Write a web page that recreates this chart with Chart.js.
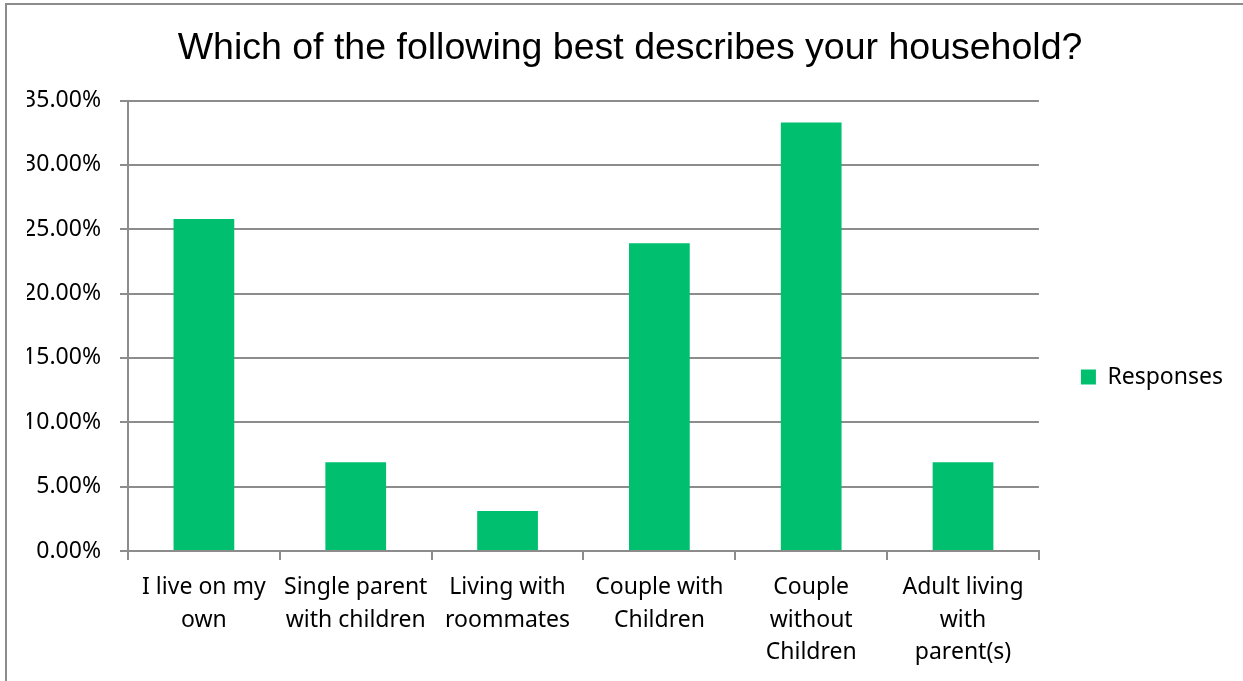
<!DOCTYPE html>
<html>
<head>
    <title>Household survey</title>
    <script src="https://cdn.jsdelivr.net/npm/chart.js"></script>
    <style>
        body { margin: 0; overflow: hidden; background: #fff; }
        #frame {
            position: absolute;
            left: 5px;
            top: 3px;
            width: 1300px;
            height: 760px;
            border-left: 2px solid #8c8c8c;
            border-top: 2px solid #8c8c8c;
        }
        #householdChart { position: absolute; left: 0; top: 0; }
    </style>
</head>
<body>
    <div id="frame">
        <canvas id="householdChart" width="1246" height="744"></canvas>
    </div>
    <script>
        // Survey answers, share of respondents in percent
        const categories = [
            ['I live on my', 'own'],
            ['Single parent', 'with children'],
            ['Living with', 'roommates'],
            ['Couple with', 'Children'],
            ['Couple', 'without', 'Children'],
            ['Adult living', 'with', 'parent(s)']
        ];
        const responses = [25.8, 6.9, 3.1, 23.9, 33.3, 6.9];
        const yTicks = [0, 5, 10, 15, 20, 25, 30, 35];

        const fontFamily = 'Noto Sans';
        const gridColor = '#8c8c8c';

        const ctx = document.getElementById('householdChart').getContext('2d');
        new Chart(ctx, {
            type: 'bar',
            data: {
                labels: categories,
                datasets: [{
                    label: 'Responses',
                    data: responses,
                    backgroundColor: '#00c070',
                    barPercentage: 0.4,
                    categoryPercentage: 1.0
                }]
            },
            options: {
                responsive: false,
                animation: false,
                layout: { padding: { left: 20, right: 20, top: 0, bottom: 0 } },
                plugins: {
                    title: {
                        display: true,
                        text: 'Which of the following best describes your household?',
                        color: '#000',
                        font: { family: 'Liberation Sans', size: 37.5, weight: 'normal' },
                        padding: { top: 21, bottom: 29.5 }
                    },
                    legend: {
                        position: 'right',
                        labels: {
                            color: '#000',
                            font: { family: fontFamily, size: 23 },
                            boxWidth: 15,
                            boxHeight: 15,
                            padding: 42
                        }
                    },
                    tooltip: { enabled: false }
                },
                scales: {
                    x: {
                        grid: {
                            display: true,
                            drawOnChartArea: false,
                            offset: true,
                            color: gridColor,
                            lineWidth: 2,
                            tickLength: 9
                        },
                        border: { color: gridColor, width: 2 },
                        ticks: {
                            color: '#000',
                            font: { family: fontFamily, size: 23, lineHeight: 1.42 },
                            maxRotation: 0,
                            autoSkip: false,
                            padding: 11
                        },
                        // leave the lower part of the box empty, as in the original sheet
                        afterFit: s => { s.height = 198; }
                    },
                    y: {
                        min: 0,
                        max: 35,
                        afterBuildTicks: s => { s.ticks = yTicks.map(v => ({ value: v })); },
                        grid: { color: gridColor, lineWidth: 2, tickLength: 8 },
                        border: { color: gridColor, width: 2 },
                        ticks: {
                            color: '#000',
                            font: { family: fontFamily, size: 23 },
                            padding: 19,
                            callback: v => v.toFixed(2) + '%'
                        },
                        afterFit: s => { s.width = 101; }
                    }
                }
            }
        });
    </script>
</body>
</html>
